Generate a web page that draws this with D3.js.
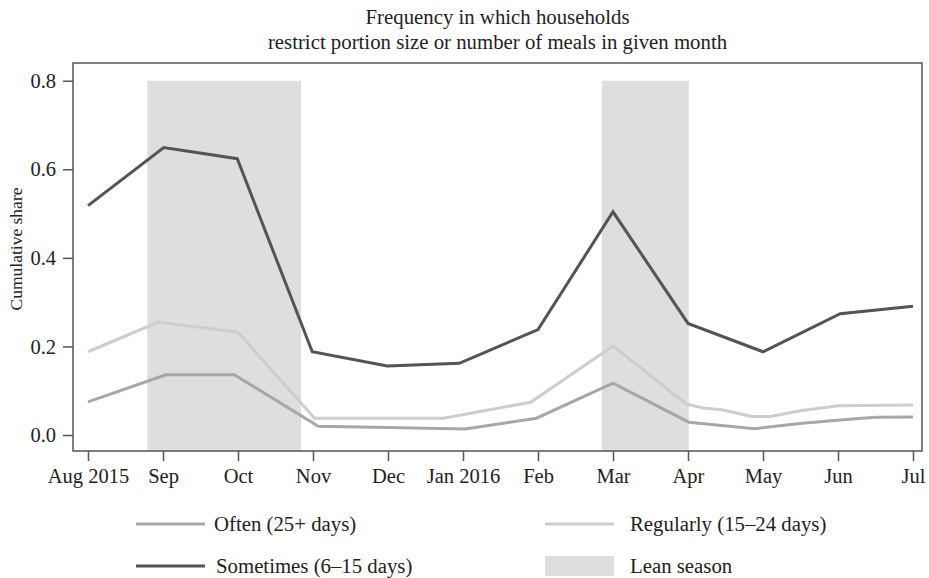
<!DOCTYPE html>
<html>
<head>
<meta charset="utf-8">
<script src="https://cdn.jsdelivr.net/npm/d3@7"></script>
<style>
  body { margin: 0; background: #fff; }
  text { font-family: "Liberation Serif", "Times New Roman", serif; fill: #222; }
</style>
</head>
<body>
<div id="chart"></div>
<script>
// Month tick labels (x = month index from Aug 2015)
const months = ["Aug 2015", "Sep", "Oct", "Nov", "Dec", "Jan 2016", "Feb", "Mar", "Apr", "May", "Jun", "Jul"];
const yTicks = [0, 0.2, 0.4, 0.6, 0.8];

// Series (x in month index)
const sometimesX = [0, 1.01, 1.99, 2.99, 3.99, 4.95, 6.0, 7.0, 8.0, 9.0, 10.03, 11.0];
const sometimesY = [0.518, 0.649, 0.624, 0.188, 0.156, 0.162, 0.238, 0.504, 0.252, 0.188, 0.274, 0.291];

const regularlyX = [0, 0.94, 2.0, 3.02, 4.74, 5.9, 7.0, 7.98, 8.2, 8.45, 8.85, 9.1, 9.5, 10.0, 11.0];
const regularlyY = [0.188, 0.255, 0.232, 0.038, 0.038, 0.074, 0.201, 0.07, 0.061, 0.057, 0.042, 0.042, 0.055, 0.066, 0.068];

const oftenX = [0, 1.04, 1.95, 3.07, 4.0, 5.03, 5.98, 7.0, 8.01, 8.89, 9.49, 10.03, 10.5, 11.0];
const oftenY = [0.075, 0.136, 0.136, 0.020, 0.017, 0.0135, 0.038, 0.117, 0.029, 0.0143, 0.026, 0.034, 0.040, 0.0406];

// Lean season spans (month index)
const leanStart = [0.79, 6.85];
const leanEnd = [2.84, 8.01];
const leanTop = 0.8;

const colors = { often: "#a7a7a9", regularly: "#cdcdcd", sometimes: "#545454", lean: "#dddee0" };

const W = 929, H = 578;
const margin = { top: 63, right: 7, bottom: 127, left: 73 };
const width = W - margin.left - margin.right;
const height = H - margin.top - margin.bottom;

const svgRoot = d3.select("#chart").append("svg")
    .attr("width", W)
    .attr("height", H);

const svg = svgRoot.append("g")
    .attr("transform", `translate(${margin.left},${margin.top})`);

const x = d3.scaleLinear().domain([-0.2, 11.12]).range([0, width]);
const y = d3.scaleLinear().domain([-0.0361, 0.84]).range([height, 0]);

// Lean season shading
svg.selectAll("rect.lean")
    .data(leanStart.map((s, i) => ({ s, e: leanEnd[i] })))
    .join("rect")
    .attr("class", "lean")
    .attr("x", d => x(d.s))
    .attr("width", d => x(d.e) - x(d.s))
    .attr("y", y(leanTop))
    .attr("height", height - y(leanTop))
    .attr("fill", colors.lean);

// Lines
const line = d3.line().x(d => x(d[0])).y(d => y(d[1]));
const series = [
    { key: "regularly", xs: regularlyX, ys: regularlyY },
    { key: "often", xs: oftenX, ys: oftenY },
    { key: "sometimes", xs: sometimesX, ys: sometimesY }
];
series.forEach(s => {
    svg.append("path")
        .datum(s.xs.map((v, i) => [v, s.ys[i]]))
        .attr("fill", "none")
        .attr("stroke", colors[s.key])
        .attr("stroke-width", 3)
        .attr("stroke-linejoin", "miter")
        .attr("d", line);
});

// Frame
svg.append("rect")
    .attr("width", width)
    .attr("height", height)
    .attr("fill", "none")
    .attr("stroke", "#555")
    .attr("stroke-width", 1.5);

// Axes
const xAxis = svg.append("g")
    .attr("transform", `translate(0,${height})`)
    .call(d3.axisBottom(x).tickValues(d3.range(months.length)).tickFormat(i => months[i]).tickSize(10).tickPadding(7));
const yAxis = svg.append("g")
    .call(d3.axisLeft(y).tickValues(yTicks).tickFormat(d3.format(".1f")).tickSize(10).tickPadding(7));

[xAxis, yAxis].forEach(a => {
    a.select(".domain").remove();
    a.selectAll(".tick line").attr("stroke", "#555").attr("stroke-width", 1.5);
    a.selectAll(".tick text")
        .attr("font-family", "Liberation Serif")
        .attr("font-size", 20.5)
        .attr("fill", "#222");
});

// Y label
svgRoot.append("text")
    .attr("transform", `translate(22,249) rotate(-90)`)
    .attr("text-anchor", "middle")
    .attr("font-size", 17.5)
    .text("Cumulative share");

// Title
const cx = margin.left + width / 2;
svgRoot.append("text").attr("x", cx).attr("y", 24).attr("text-anchor", "middle")
    .attr("font-size", 20.8).text("Frequency in which households");
svgRoot.append("text").attr("x", cx).attr("y", 49).attr("text-anchor", "middle")
    .attr("font-size", 20.8).text("restrict portion size or number of meals in given month");

// Legend
const legendItems = [
    { label: "Often (25+ days)", key: "often", type: "line", lx: 136, ly: 524, tx: 78 },
    { label: "Regularly (15\u201324 days)", key: "regularly", type: "line", lx: 545, ly: 524, tx: 85 },
    { label: "Sometimes (6\u201315 days)", key: "sometimes", type: "line", lx: 136, ly: 566, tx: 80 },
    { label: "Lean season", key: "lean", type: "box", lx: 545, ly: 566, tx: 85 }
];
const lg = svgRoot.append("g").selectAll("g").data(legendItems).join("g")
    .attr("transform", d => `translate(${d.lx},${d.ly})`);
lg.filter(d => d.type === "line").append("line")
    .attr("x1", 0).attr("x2", 69).attr("y1", 0).attr("y2", 0)
    .attr("stroke", d => colors[d.key]).attr("stroke-width", 3);
lg.filter(d => d.type === "box").append("rect")
    .attr("x", 0).attr("y", -10).attr("width", 69).attr("height", 20)
    .attr("fill", d => colors[d.key]);
lg.append("text")
    .attr("x", d => d.tx)
    .attr("y", 7)
    .attr("font-size", 20.8)
    .text(d => d.label);
</script>
</body>
</html>
